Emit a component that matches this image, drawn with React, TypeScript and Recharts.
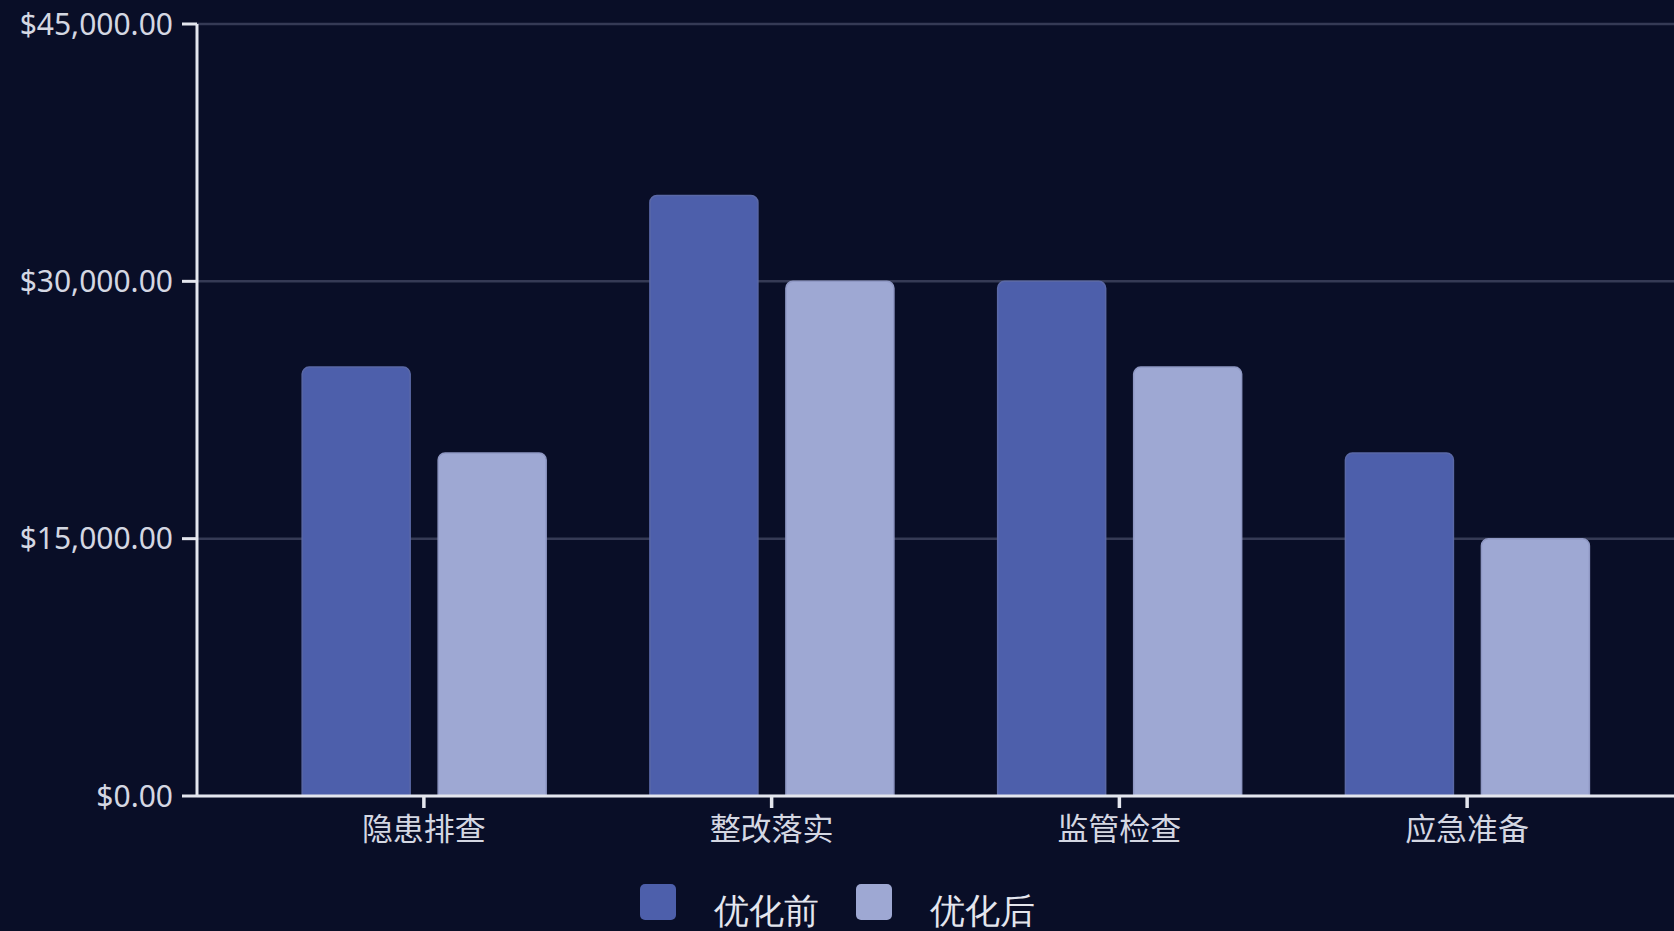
import * as React from "react";
import { Bar, BarChart, CartesianGrid, Legend, XAxis, YAxis } from "recharts";

// categories and series
const categories = ["隐患排查", "整改落实", "监管检查", "应急准备"];
const beforeValues = [25000, 35000, 30000, 20000];
const afterValues = [20000, 30000, 25000, 15000];
const yTicks = [0, 15000, 30000, 45000];

const seriesNames = { before: "优化前", after: "优化后" };
const colors = { before: "#4d5fab", after: "#9ea8d3" };

const data = categories.map((name, i) => ({
  name,
  before: beforeValues[i],
  after: afterValues[i],
}));

const formatMoney = (v: number) =>
  "$" +
  v.toLocaleString("en-US", {
    minimumFractionDigits: 2,
    maximumFractionDigits: 2,
  });

const LegendContent = (props: any) => {
  const items = props.payload || [];
  return (
    <div
      style={{
        display: "flex",
        justifyContent: "center",
        alignItems: "flex-start",
        width: "100%",
      }}
    >
      {items.map((item: any, idx: number) => (
        <div
          key={item.value}
          style={{
            display: "flex",
            alignItems: "flex-start",
            marginLeft: idx === 0 ? 0 : 37,
          }}
        >
          <span
            style={{
              width: 36,
              height: 36,
              borderRadius: 5,
              background: item.color,
              display: "inline-block",
            }}
          />
          <span
            style={{
              marginLeft: 38,
              marginTop: 8,
              fontSize: 35,
              lineHeight: "40px",
              color: "#e4e6ee",
            }}
          >
            {item.value}
          </span>
        </div>
      ))}
    </div>
  );
};

export default function App() {
  return (
    <div
      style={{
        position: "absolute",
        left: 0,
        top: 0,
        width: 1674,
        height: 931,
        background: "#090e27",
        overflow: "hidden",
      }}
    >
      <BarChart
        width={1674}
        height={931}
        data={data}
        margin={{ top: 24, right: 0, bottom: 27, left: 0 }}
        barCategoryGap="15%"
        barGap={28}
      >
        <CartesianGrid vertical={false} stroke="#353a55" strokeWidth={2.5} />
        <XAxis
          dataKey="name"
          height={60}
          padding={{ left: 53, right: 33 }}
          axisLine={{ stroke: "#e4e6ee", strokeWidth: 3 }}
          tickLine={{ stroke: "#e4e6ee", strokeWidth: 3.5 }}
          tickSize={12}
          tickMargin={10}
          tick={{
            fill: "#d4d7e2",
            fontSize: 31,
            fontFamily: "'Noto Sans CJK SC', 'Noto Sans', sans-serif",
          }}
        />
        <YAxis
          width={197}
          domain={[0, 45000]}
          ticks={yTicks}
          tickFormatter={formatMoney}
          axisLine={{ stroke: "#e4e6ee", strokeWidth: 3 }}
          tickLine={{ stroke: "#e4e6ee", strokeWidth: 3 }}
          tickSize={15}
          tickMargin={9}
          tick={{
            fill: "#d4d7e2",
            fontSize: 30,
            fontFamily: "'Noto Sans', sans-serif",
          }}
        />
        <Legend
          content={<LegendContent />}
          wrapperStyle={{ top: 884, left: 0, width: 1674 }}
        />
        <Bar
          dataKey="before"
          name={seriesNames.before}
          fill={colors.before}
          stroke="#5a68a6"
          strokeWidth={1.5}
          radius={[7, 7, 0, 0]}
          isAnimationActive={false}
        />
        <Bar
          dataKey="after"
          name={seriesNames.after}
          fill={colors.after}
          stroke="#8f98c4"
          strokeWidth={1.5}
          radius={[7, 7, 0, 0]}
          isAnimationActive={false}
        />
      </BarChart>
    </div>
  );
}
